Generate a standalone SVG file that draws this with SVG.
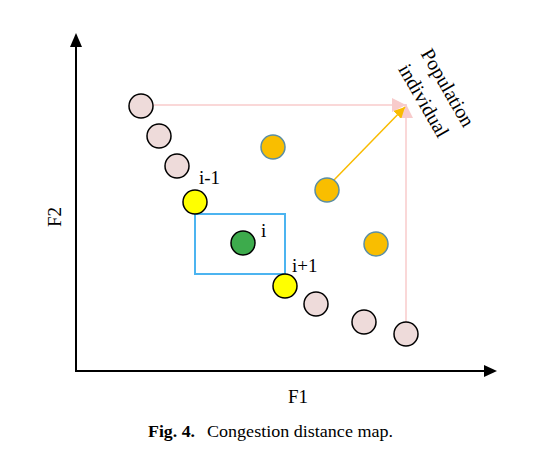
<svg xmlns="http://www.w3.org/2000/svg" width="540" height="463" viewBox="0 0 540 463">
<defs>
<style>
.t{font-family:"Liberation Serif","Times New Roman",serif;fill:#000}
.pk{fill:#eedbda;stroke:#000;stroke-width:1.5}
.yl{fill:#ffff00;stroke:#000;stroke-width:1.5}
.gr{fill:#3dab4c;stroke:#000;stroke-width:1.5}
.or{fill:#f9be00;stroke:#5a8ea4;stroke-width:1.5}
</style>
<marker id="ap" viewBox="0 0 10 10" refX="10" refY="5" markerWidth="14" markerHeight="14" markerUnits="userSpaceOnUse" orient="auto"><path d="M0,0 L10,5 L0,10 Z" fill="#f8cbcb"/></marker>
<marker id="ao" viewBox="0 0 10 10" refX="10" refY="5" markerWidth="11" markerHeight="11" markerUnits="userSpaceOnUse" orient="auto"><path d="M0,0 L10,5 L0,10 Z" fill="#f9bb00"/></marker>
</defs>
<rect width="540" height="463" fill="#fff"/>
<g id="connectors">
<line x1="76" y1="371" x2="76" y2="46" stroke="#000" stroke-width="2"/>
<path d="M76,33 L70,47 L82,47 Z" fill="#000"/>
<line x1="75" y1="371" x2="485" y2="371" stroke="#000" stroke-width="2"/>
<path d="M497,371 L484,365 L484,377 Z" fill="#000"/>
<line x1="153" y1="105" x2="406" y2="105" stroke="#f8cbcb" stroke-width="1.5" marker-end="url(#ap)"/>
<line x1="406" y1="322" x2="406" y2="104" stroke="#f8cbcb" stroke-width="1.5" marker-end="url(#ap)"/>
<line x1="334" y1="180" x2="405" y2="107" stroke="#f9bb00" stroke-width="1.5" marker-end="url(#ao)"/>
</g>
<g id="box"><rect x="195" y="214" width="90" height="60" fill="none" stroke="#4cb4f0" stroke-width="2"/></g>
<g id="p1"><circle cx="141" cy="106" r="12" class="pk"/></g>
<g id="p2"><circle cx="159" cy="136" r="12" class="pk"/></g>
<g id="p3"><circle cx="177" cy="166" r="12" class="pk"/></g>
<g id="im1"><circle cx="195" cy="202" r="12" class="yl"/><text class="t" x="199" y="184" font-size="19">i-1</text></g>
<g id="i"><circle cx="243" cy="243" r="12" class="gr"/><text class="t" x="261" y="237" font-size="19">i</text></g>
<g id="ip1"><circle cx="285" cy="286" r="12" class="yl"/><text class="t" x="292" y="272" font-size="19">i+1</text></g>
<g id="p4"><circle cx="316" cy="304" r="12" class="pk"/></g>
<g id="p5"><circle cx="364" cy="322" r="12" class="pk"/></g>
<g id="p6"><circle cx="406" cy="334" r="12" class="pk"/></g>
<g id="o1"><circle cx="273" cy="147" r="12" class="or"/></g>
<g id="o2"><circle cx="327" cy="190" r="12" class="or"/></g>
<g id="o3"><circle cx="376" cy="244" r="12" class="or"/></g>
<g id="label">
<text class="t" font-size="20" text-anchor="middle" transform="translate(442,91) rotate(60)">Population</text>
<text class="t" font-size="20" text-anchor="middle" transform="translate(418,104) rotate(60)">individual</text>
</g>
<text class="t" font-size="19" text-anchor="middle" transform="translate(61,217) rotate(-90)">F2</text>
<text class="t" font-size="19" x="298" y="403" text-anchor="middle">F1</text>
<text class="t" font-size="17" x="148" y="437" font-weight="bold" textLength="47" lengthAdjust="spacingAndGlyphs">Fig. 4.</text>
<text class="t" font-size="17" x="207" y="437" textLength="186" lengthAdjust="spacingAndGlyphs">Congestion distance map.</text>
</svg>
